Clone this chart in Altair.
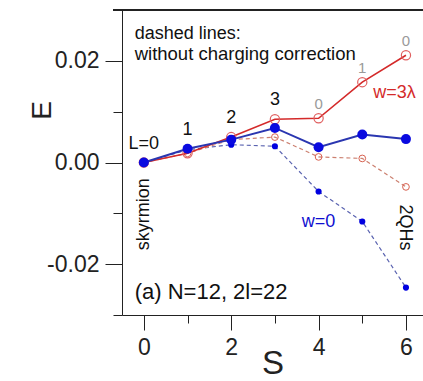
import altair as alt
import pandas as pd

# Spin S of the excited states and their energies
S = [0, 1, 2, 3, 4, 5, 6]
e_w3 = [0.0, 0.0018, 0.0050, 0.0085, 0.0087, 0.0158, 0.0211]        # w = 3 lambda, corrected
e_w0 = [0.0, 0.0027, 0.0045, 0.0068, 0.0030, 0.0055, 0.0046]        # w = 0, corrected
e_w3_raw = [0.0, 0.0018, 0.0045, 0.0050, 0.0011, 0.0008, -0.0048]   # w = 3 lambda, no charging correction
e_w0_raw = [0.0, 0.0025, 0.0035, 0.0032, -0.0057, -0.0116, -0.0246] # w = 0, no charging correction

# Angular momentum of the lowest state at each S
L_labels = ["L=0", "1", "2", "3", "0", "1", "0"]
L_shade = ["dark", "dark", "dark", "dark", "light", "light", "light"]

FONT = "Liberation Sans"
W, H = 301, 305

rows = []
for name, vals in [("w3", e_w3), ("w0", e_w0), ("w3raw", e_w3_raw), ("w0raw", e_w0_raw)]:
    for s, e in zip(S, vals):
        rows.append({"S": s, "E": e, "series": name})
df = pd.DataFrame(rows)

lab = pd.DataFrame({
    "S": S,
    "E": [max(a, b) for a, b in zip(e_w3, e_w0)],
    "L": L_labels,
    "shade": L_shade,
})

xscale = alt.Scale(domain=[-0.5, 6.39], nice=False, zero=False)
yscale = alt.Scale(domain=[-0.03, 0.03], nice=False, zero=False)

x_major = "datum.value % 2 == 0"
y_major = "abs(abs(datum.value) - 0.01) > 0.001 && abs(datum.value) < 0.025"

xaxis = alt.Axis(
    values=S, title="S", grid=False, domainColor="#222", tickColor="#222",
    tickSize={"condition": {"test": x_major, "value": 15}, "value": 8},
    labelExpr=f"{x_major} ? datum.label : ''",
    labelFont=FONT, labelFontSize=23, labelColor="#222", labelPadding=6,
    titleFont=FONT, titleFontSize=33, titleFontWeight="normal", titleColor="#222",
    titleBaseline="alphabetic", titleY=58,
)
yaxis = alt.Axis(
    values=[-0.03, -0.02, -0.01, 0.0, 0.01, 0.02, 0.03], title="E", grid=False,
    domainColor="#222", tickColor="#222",
    tickSize={"condition": {"test": y_major, "value": 17}, "value": 9},
    labelExpr=f"{y_major} ? replace(format(datum.value, '.2f'), '\u2212', '-') : ''",
    labelFont=FONT, labelFontSize=23, labelColor="#222", labelPadding=6,
    titleFont=FONT, titleFontSize=28, titleFontWeight="normal", titleColor="#222",
    titleAngle=270, titleBaseline="middle", titleAlign="center", titleX=-80, titleY=100,
)

base = alt.Chart(df)


def series_line(name, color, dash=None, width=1.5):
    kw = {"color": color, "strokeWidth": width}
    if dash:
        kw["strokeDash"] = dash
    return base.transform_filter(alt.datum.series == name).mark_line(**kw).encode(
        x=alt.X("S:Q", scale=xscale, axis=xaxis),
        y=alt.Y("E:Q", scale=yscale, axis=yaxis),
    )


def series_points(name, **kw):
    return base.transform_filter(alt.datum.series == name).mark_point(**kw).encode(
        x=alt.X("S:Q", scale=xscale),
        y=alt.Y("E:Q", scale=yscale),
    )


frame_top = alt.Chart(df).mark_rule(color="#222", strokeWidth=1).encode(
    x=alt.value(-9), x2=alt.value(W), y=alt.value(0)
)

layers = [
    series_line("w0raw", "#5a63b0", dash=[4, 3], width=1.2),
    series_points("w0raw", filled=True, color="#0000e0", size=38, opacity=1),
    series_line("w3raw", "#cc8070", dash=[4, 3], width=1.2),
    series_points("w3raw", filled=False, color="#d8604f", size=45, strokeWidth=1, opacity=1),
    series_line("w3", "#d42a2a", width=1.6),
    series_points("w3", filled=False, color="#e06060", size=85, strokeWidth=1.2, opacity=1),
    series_line("w0", "#2a36b0", width=2),
    series_points("w0", filled=True, color="#0a0ae0", size=100, opacity=1),
]

# L labels above each point: dark for S <= 3, light grey beyond
lab_base = alt.Chart(lab).encode(
    x=alt.X("S:Q", scale=xscale),
    y=alt.Y("E:Q", scale=yscale),
    text="L:N",
)
L_dark = lab_base.transform_filter("datum.shade == 'dark'").mark_text(
    font=FONT, fontSize=18, baseline="middle", align="center", color="#111", dy=-19)
L_light = lab_base.transform_filter("datum.shade == 'light'").mark_text(
    font=FONT, fontSize=15, baseline="middle", align="center", color="#9a9a9a", dy=-14)

notes = pd.DataFrame({
    "S": [-0.21, -0.21, -0.21],
    "E": [0.0253, 0.0214, -0.0255],
    "text": ["dashed lines:", "without charging correction", "(a) N=12, 2l=22"],
    "fs": [18, 18.5, 22],
})
note_text = alt.Chart(notes).mark_text(font=FONT, align="left", baseline="middle", color="#111").encode(
    x=alt.X("S:Q", scale=xscale),
    y=alt.Y("E:Q", scale=yscale),
    text="text:N",
    size=alt.Size("fs:Q", scale=None),
)

series_names = pd.DataFrame({
    "S": [5.74, 4.0],
    "E": [0.0137, -0.0118],
    "text": ["w=3\u03bb", "w=0"],
    "color": ["#d42a2a", "#1010d0"],
})
name_text = alt.Chart(series_names).mark_text(
    font=FONT, fontSize=18, align="center", baseline="middle").encode(
    x=alt.X("S:Q", scale=xscale),
    y=alt.Y("E:Q", scale=yscale),
    text="text:N",
    color=alt.Color("color:N", scale=None),
)

vert = pd.DataFrame({"S": [0.0, 5.97], "E": [-0.0102, -0.0128], "text": ["skyrmion", "2QHs"]})
sky = alt.Chart(vert).transform_filter("datum.text == 'skyrmion'").mark_text(
    font=FONT, fontSize=18, angle=270, align="center", baseline="middle", color="#111"
).encode(x=alt.X("S:Q", scale=xscale), y=alt.Y("E:Q", scale=yscale), text="text:N")
qhs = alt.Chart(vert).transform_filter("datum.text == '2QHs'").mark_text(
    font=FONT, fontSize=18, angle=90, align="center", baseline="middle", color="#111"
).encode(x=alt.X("S:Q", scale=xscale), y=alt.Y("E:Q", scale=yscale), text="text:N")

chart = alt.layer(frame_top, *layers, L_dark, L_light, note_text, name_text, sky, qhs).properties(
    width=W, height=H,
    autosize=alt.AutoSizeParams(type="none"),
    padding={"left": 122, "top": 10, "right": 0, "bottom": 66},
).configure_view(stroke=None).configure(background="white")

chart.save("out.html", embed_options={"renderer": "svg", "actions": False})
